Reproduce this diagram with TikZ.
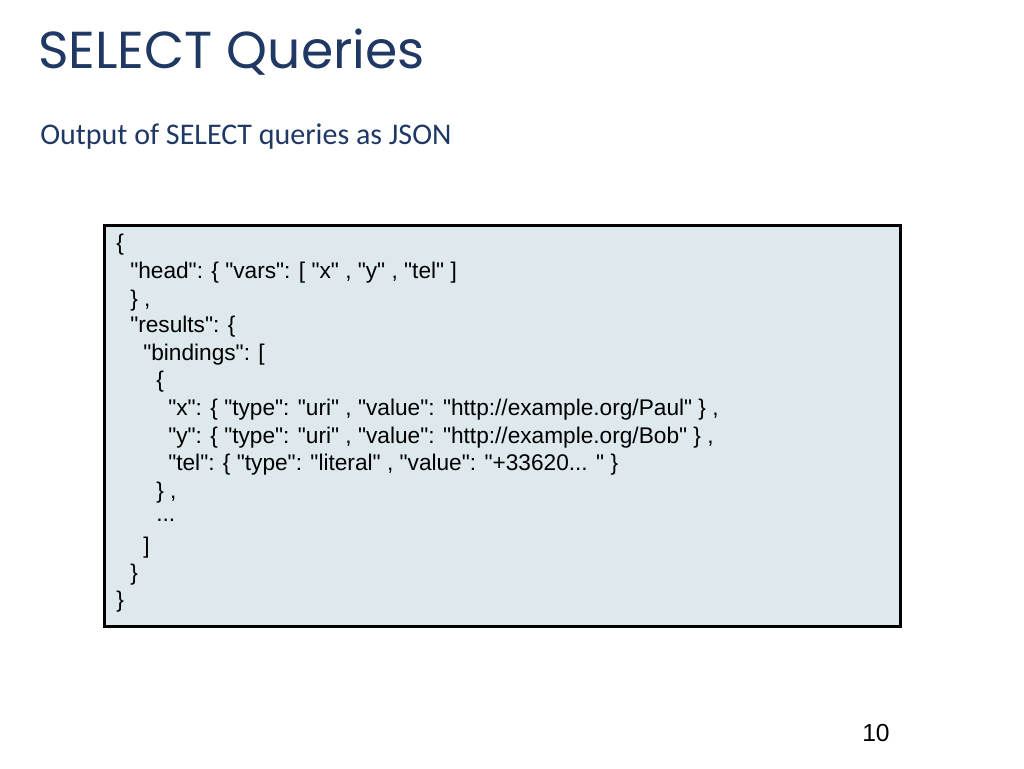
\documentclass[tikz,border=0pt]{standalone}
\usepackage{fontspec}
\setmainfont{Liberation Sans}[Ligatures=TeXOff]
\newfontfamily\titlefont{Poppins}
\newfontfamily\subfont{Carlito}
\definecolor{titleblue}{HTML}{1F3864}
\definecolor{boxfill}{HTML}{DDE9EC}
\begin{document}
\begin{tikzpicture}[x=0.75pt,y=-0.75pt,
  code/.style={anchor=west,inner sep=0pt,font=\fontsize{17}{17}\selectfont}]
\useasboundingbox (0,0) rectangle (1024,768);
\node[anchor=west,inner sep=0pt,text=titleblue,font=\titlefont\fontsize{39}{39}\selectfont] (title) at (38,52) {SELECT Queries};
\node[anchor=west,inner sep=0pt,text=titleblue,font=\subfont\fontsize{22.5}{22.5}\selectfont] (sub) at (40,137) {Output of SELECT queries as JSON};
\node[draw=black,line width=2.2pt,fill=boxfill,minimum width=796*0.75pt,minimum height=401*0.75pt,anchor=north west,inner sep=0pt] (box) at (103,224) {};
\node[code] (l1) at (116,245) {\{};
\node[code] (l2) at (130,273) {"head": \{ "vars": [ "x" , "y" , "tel" ]};
\node[code] (l3) at (130,301) {\} ,};
\node[code] (l4) at (130,327) {"results": \{};
\node[code] (l5) at (143,355) {"bindings": [};
\node[code] (l6) at (156,382) {\{};
\node[code] (l7) at (168,410) {"x": \{ "type": "uri" , "value": "http://example.org/Paul" \} ,};
\node[code] (l8) at (168,438) {"y": \{ "type": "uri" , "value": "http://example.org/Bob" \} ,};
\node[code] (l9) at (168,465) {"tel": \{ "type": "literal" , "value": "+33620... " \}};
\node[code] (l10) at (156,493) {\} ,};
\node[code] (l11) at (156,520) {...};
\node[code] (l12) at (143,548) {]};
\node[code] (l13) at (130,575) {\}};
\node[code] (l14) at (116,602) {\}};
\node[anchor=west,inner sep=0pt,font=\fontsize{18.5}{18.5}\selectfont] (num) at (862,733) {10};
\end{tikzpicture}
\end{document}
